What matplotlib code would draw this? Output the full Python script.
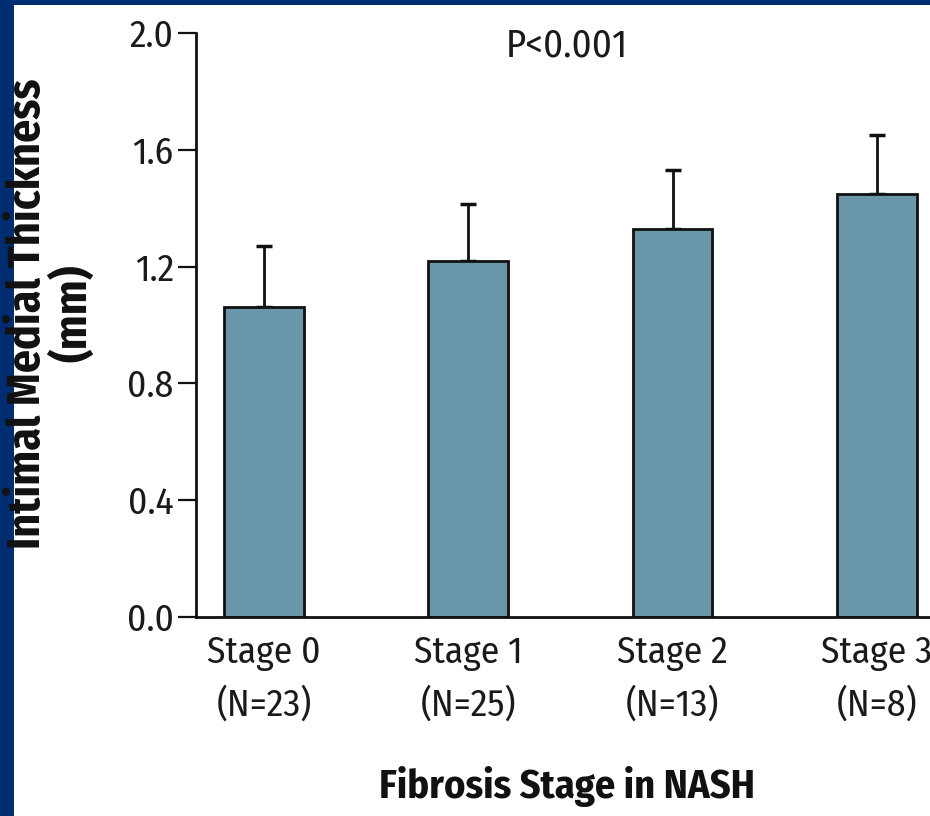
import numpy as np
import matplotlib
matplotlib.use("Agg")
import matplotlib.pyplot as plt
from matplotlib.patches import Rectangle

# data
stages = ["Stage 0", "Stage 1", "Stage 2", "Stage 3"]
n_counts = [23, 25, 13, 8]
means = [1.06, 1.22, 1.33, 1.45]
errs = [0.21, 0.195, 0.20, 0.20]
yticks = [0.0, 0.4, 0.8, 1.2, 1.6, 2.0]

navy = "#002d72"
barcol = "#6996a8"
fnt = ["Fira Sans Condensed", "Liberation Sans", "DejaVu Sans"]

W, H = 930, 816
fig = plt.figure(figsize=(W / 100, H / 100), dpi=100)
fig.patch.set_facecolor(navy)
fig.add_artist(Rectangle((14 / W, 0), 1, 1 - 5 / H, transform=fig.transFigure,
                         facecolor="white", edgecolor="none", zorder=-1))

ax = fig.add_axes([196 / W, 1 - 617 / H, 1 - 196 / W, (617 - 33) / H])
ax.set_facecolor("none")

x = np.arange(len(stages))
ax.bar(x, means, width=0.39, color=barcol, edgecolor="#111111", linewidth=2, zorder=2)
ax.errorbar(x, means, yerr=[np.zeros(len(errs)), errs], fmt="none", ecolor="#111111",
            elinewidth=2, capsize=5.5, capthick=2.5, zorder=1)

ax.set_xlim(-0.333, 3.26)
ax.set_ylim(0, 2.0)
ax.set_yticks(yticks)
ax.set_yticklabels([f"{v:.1f}" for v in yticks], fontfamily=fnt, fontsize=27, color="#1a1a1a")
ax.set_xticks(x)
ax.set_xticklabels([f"{s}\n(N={n})" for s, n in zip(stages, n_counts)],
                   fontfamily=fnt, fontsize=27, color="#1a1a1a", linespacing=1.55)
ax.tick_params(axis="y", length=13, width=1.6, pad=3, color="#111111")
ax.tick_params(axis="x", length=0, pad=13)

for s in ["top", "right"]:
    ax.spines[s].set_visible(False)
for s in ["left", "bottom"]:
    ax.spines[s].set_linewidth(2)
    ax.spines[s].set_color("#111111")

ax.set_ylabel("Intimal Medial Thickness\n(mm)", fontfamily=fnt, fontweight="bold",
              fontsize=33, linespacing=1.0, color="#111111")
ax.yaxis.set_label_coords(-0.136, 0.52)
ax.set_xlabel("Fibrosis Stage in NASH", fontfamily=fnt, fontweight="bold",
              fontsize=29, color="#111111")
ax.xaxis.set_label_coords(0.505, -0.255)

ax.text(0.505, 0.978, "P<0.001", transform=ax.transAxes, ha="center", va="center",
        fontfamily=fnt, fontsize=28, color="#1a1a1a")

fig.savefig("out.png", dpi=100, facecolor=fig.get_facecolor())
